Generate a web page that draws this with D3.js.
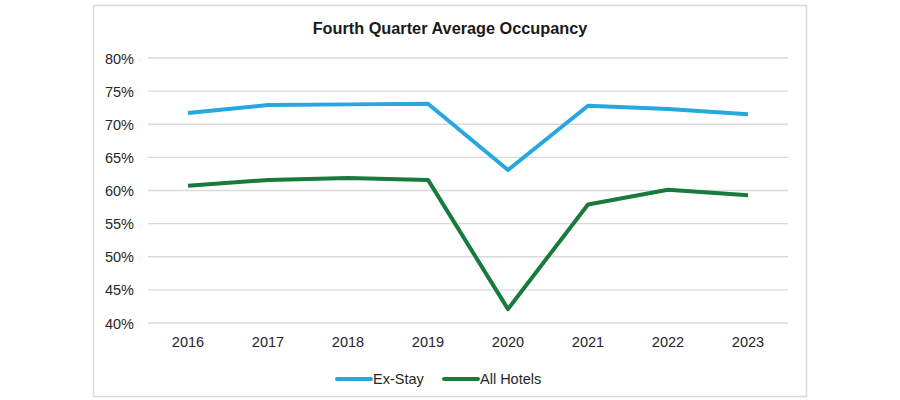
<!DOCTYPE html>
<html>
<head>
<meta charset="utf-8">
<script src="https://cdn.jsdelivr.net/npm/d3@7"></script>
<style>
  body { margin: 0; background: #fff; }
  svg { font-family: "Liberation Sans", Arial, sans-serif; }
</style>
</head>
<body>
<script>
// chart data
const years = ['2016', '2017', '2018', '2019', '2020', '2021', '2022', '2023']
const exStay = [71.7, 72.9, 73.0, 73.1, 63.1, 72.8, 72.3, 71.5]
const allHotels = [60.7, 61.6, 61.9, 61.6, 42.1, 57.9, 60.1, 59.3]
const yTicks = [40, 45, 50, 55, 60, 65, 70, 75, 80]
const seriesNames = ['Ex-Stay', 'All Hotels']

const colors = ['#27a7df', '#187a3c']

const margin = { top: 58, right: 112, bottom: 77, left: 148 }
    , width = 900 - margin.left - margin.right
    , height = 400 - margin.top - margin.bottom

const svg = d3.select('body').append('svg')
    .attr('width', 900)
    .attr('height', 400)

// outer frame
svg.append('rect')
    .attr('x', 93.5).attr('y', 5.5)
    .attr('width', 713).attr('height', 391)
    .attr('fill', 'none')
    .attr('stroke', '#d9d9d9')
    .attr('stroke-width', 1.5)

svg.append('text')
    .attr('x', 450).attr('y', 34)
    .attr('text-anchor', 'middle')
    .style('font-size', '16.3px')
    .style('font-weight', 'bold')
    .attr('fill', '#1a1a1a')
    .text('Fourth Quarter Average Occupancy')

const xScale = d3.scaleBand()
    .domain(years)
    .range([margin.left, margin.left + width])

const yScale = d3.scaleLinear()
    .domain([40, 80])
    .range([margin.top + height, margin.top])

// gridlines
svg.append('g')
    .selectAll('line')
    .data(yTicks)
    .enter()
    .append('line')
    .attr('x1', margin.left)
    .attr('x2', margin.left + width)
    .attr('y1', d => yScale(d))
    .attr('y2', d => yScale(d))
    .attr('stroke', '#d9d9d9')
    .attr('stroke-width', 1.3)

// y labels
svg.append('g')
    .selectAll('text')
    .data(yTicks)
    .enter()
    .append('text')
    .attr('x', 134)
    .attr('y', d => yScale(d) + 5.5)
    .attr('text-anchor', 'end')
    .style('font-size', '14.5px')
    .attr('fill', '#262626')
    .text(d => d + '%')

// x labels
svg.append('g')
    .selectAll('text')
    .data(years)
    .enter()
    .append('text')
    .attr('x', d => xScale(d) + xScale.bandwidth() / 2)
    .attr('y', margin.top + height + 24)
    .attr('text-anchor', 'middle')
    .style('font-size', '14.5px')
    .attr('fill', '#262626')
    .text(d => d)

const line = d3.line()
    .x((d, i) => xScale(years[i]) + xScale.bandwidth() / 2)
    .y(d => yScale(d))

;[exStay, allHotels].forEach((s, i) => {
    svg.append('path')
        .datum(s)
        .attr('d', line)
        .attr('fill', 'none')
        .attr('stroke', colors[i])
        .attr('stroke-width', 4)
        .attr('stroke-linejoin', 'round')
})

// legend
const legendX = [337, 444]
seriesNames.forEach((name, i) => {
    svg.append('line')
        .attr('x1', legendX[i]).attr('x2', legendX[i] + 34)
        .attr('y1', 379).attr('y2', 379)
        .attr('stroke', colors[i])
        .attr('stroke-width', 4)
        .attr('stroke-linecap', 'round')
    svg.append('text')
        .attr('x', legendX[i] + 36)
        .attr('y', 384)
        .style('font-size', '14.5px')
        .attr('fill', '#262626')
        .text(name)
})
</script>
</body>
</html>
